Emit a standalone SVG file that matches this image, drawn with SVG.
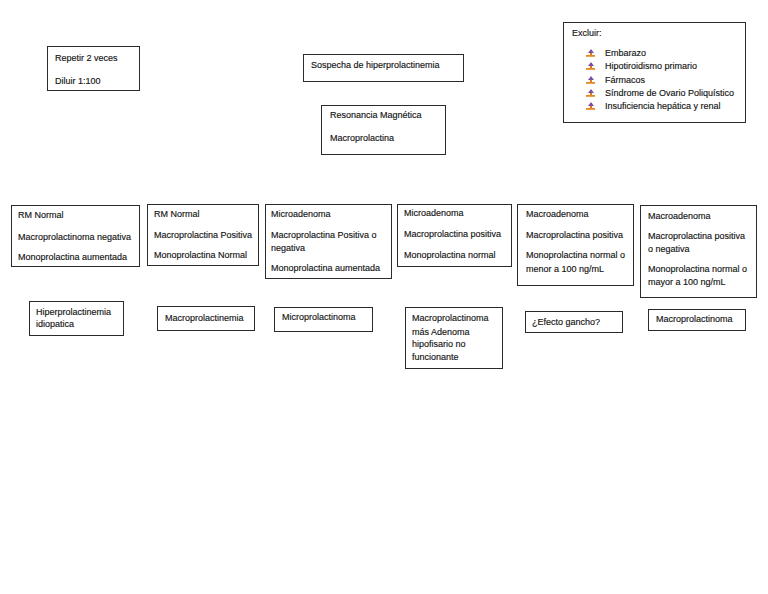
<svg xmlns="http://www.w3.org/2000/svg" width="768" height="594" viewBox="0 0 768 594">
<defs>
<style>
.b{fill:#fff;stroke:#2b2b2b;stroke-width:1}
text{font-family:"Liberation Sans",Arial,sans-serif;font-size:9px;fill:#141414;stroke:#141414;stroke-width:0.15}
</style>
<g id="bullet">
<polygon points="1,-5 4,-1 -2,-1" fill="#7b4fa0"/>
<polygon points="0,-1 2,-1 2,1 0,1" fill="#e0781e"/>
<polygon points="-4,1 5,1 5,2.8 -4,2.8" fill="#e8891e"/>
</g>
</defs>
<rect width="768" height="594" fill="#fff"/>
<g id="connectors"></g>
<g id="repetir"><rect class="b" x="47.5" y="46.5" width="92" height="44"/><text x="55" y="61">Repetir 2 veces</text><text x="55" y="84">Diluir 1:100</text></g>
<g id="sospecha"><rect class="b" x="303.5" y="54.5" width="160" height="27"/><text x="311" y="68">Sospecha de hiperprolactinemia</text></g>
<g id="resonancia"><rect class="b" x="321.5" y="105.5" width="124" height="49"/><text x="330" y="118">Resonancia Magnética</text><text x="330" y="141">Macroprolactina</text></g>
<g id="excluir"><rect class="b" x="563.5" y="22.5" width="182" height="100"/><text x="572" y="36">Excluir:</text>
<use href="#bullet" x="590" y="54"/><text x="605" y="56">Embarazo</text>
<use href="#bullet" x="590" y="67"/><text x="605" y="69">Hipotiroidismo primario</text>
<use href="#bullet" x="590" y="81"/><text x="605" y="83">Fármacos</text>
<use href="#bullet" x="590" y="94"/><text x="605" y="96">Síndrome de Ovario Poliquístico</text>
<use href="#bullet" x="590" y="107"/><text x="605" y="109">Insuficiencia hepática y renal</text></g>
<g id="c1"><rect class="b" x="11.5" y="205.5" width="128" height="61"/><text x="18" y="218">RM Normal</text><text x="18" y="240">Macroprolactinoma negativa</text><text x="18" y="260">Monoprolactina aumentada</text></g>
<g id="c2"><rect class="b" x="147.5" y="204.5" width="111" height="61"/><text x="154" y="217">RM Normal</text><text x="154" y="238">Macroprolactina Positiva</text><text x="154" y="258">Monoprolactina Normal</text></g>
<g id="c3"><rect class="b" x="265.5" y="204.5" width="126" height="74"/><text x="271" y="217">Microadenoma</text><text x="271" y="238">Macroprolactina Positiva o</text><text x="271" y="251">negativa</text><text x="271" y="271">Monoprolactina aumentada</text></g>
<g id="c4"><rect class="b" x="397.5" y="204.5" width="114" height="62"/><text x="404" y="216">Microadenoma</text><text x="404" y="237">Macroprolactina positiva</text><text x="404" y="258">Monoprolactina normal</text></g>
<g id="c5"><rect class="b" x="517.5" y="204.5" width="116" height="81"/><text x="526" y="217">Macroadenoma</text><text x="526" y="238">Macroprolactina positiva</text><text x="526" y="258">Monoprolactina normal o</text><text x="526" y="272">menor a 100 ng/mL</text></g>
<g id="c6"><rect class="b" x="640.5" y="205.5" width="116" height="92"/><text x="648" y="219">Macroadenoma</text><text x="648" y="239">Macroprolactina positiva</text><text x="648" y="252">o negativa</text><text x="648" y="272">Monoprolactina normal o</text><text x="648" y="285">mayor a 100 ng/mL</text></g>
<g id="d1"><rect class="b" x="29.5" y="301.5" width="94" height="34"/><text x="36" y="315">Hiperprolactinemia</text><text x="36" y="327">idiopatica</text></g>
<g id="d2"><rect class="b" x="157.5" y="306.5" width="97" height="24"/><text x="165" y="321">Macroprolactinemia</text></g>
<g id="d3"><rect class="b" x="274.5" y="307.5" width="98" height="24"/><text x="282" y="320">Microprolactinoma</text></g>
<g id="d4"><rect class="b" x="405.5" y="307.5" width="97" height="61"/><text x="412" y="321">Macroprolactinoma</text><text x="412" y="335">más Adenoma</text><text x="412" y="347">hipofisario no</text><text x="412" y="360">funcionante</text></g>
<g id="d5"><rect class="b" x="525.5" y="311.5" width="97" height="21"/><text x="532" y="325">¿Efecto gancho?</text></g>
<g id="d6"><rect class="b" x="648.5" y="309.5" width="97" height="21"/><text x="656" y="322">Macroprolactinoma</text></g>
</svg>
